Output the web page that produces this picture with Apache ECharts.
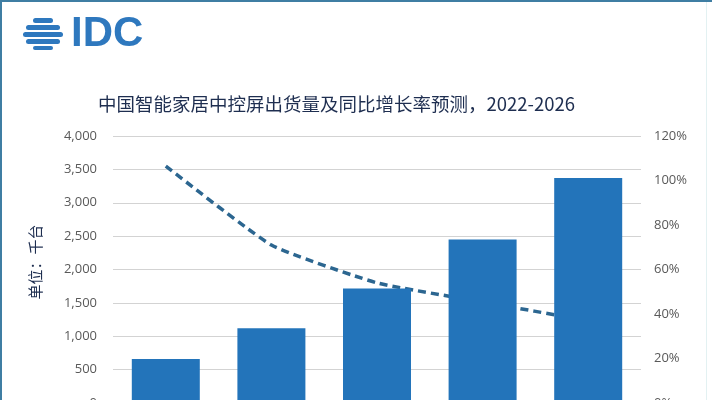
<!DOCTYPE html>
<html>
<head>
<meta charset="utf-8">
<script src="https://cdn.jsdelivr.net/npm/echarts@6/dist/echarts.min.js"></script>
<style>
html,body{margin:0;padding:0;background:#fff;}
#c{width:712px;height:400px;}
</style>
</head>
<body>
<div id="c"></div>
<script>
const categories = ['2022', '2023', '2024', '2025', '2026'];
const shipments = [660, 1120, 1715, 2450, 3370];
const growth = [1.065, 0.71, 0.54, 0.454, 0.37];
const leftTicks = { min: 0, max: 4000, interval: 500 };
const rightTicks = { min: 0, max: 1.2, interval: 0.2 };
const titleText = '中国智能家居中控屏出货量及同比增长率预测，2022-2026';
const unitText = '单位：千台';

const chart = echarts.init(document.getElementById('c'), null, { renderer: 'canvas' });

const blue = '#2E78BE';
const stripes = [
  { y: 18, h: 5, hw: 10 },
  { y: 25, h: 5, hw: 17 },
  { y: 32, h: 5, hw: 20 },
  { y: 39, h: 5, hw: 17 },
  { y: 46, h: 4, hw: 10 }
];
const logo = stripes.map(s => ({
  type: 'rect',
  shape: { x: 43 - s.hw, y: s.y, width: s.hw * 2, height: s.h, r: s.h / 2 },
  style: { fill: blue }
}));

chart.setOption({
  backgroundColor: '#ffffff',
  animation: false,
  title: {
    text: titleText,
    left: 93,
    top: 90,
    textStyle: { fontFamily: 'Noto Sans CJK SC', fontSize: 18.5, fontWeight: 'normal', color: '#1E2E50' }
  },
  grid: { left: 113, right: 71, top: 136, height: 267, containLabel: false, outerBoundsMode: 'none' },
  xAxis: {
    type: 'category',
    data: categories,
    axisLine: { show: true, lineStyle: { color: '#D0D0D0' } },
    axisTick: { show: false },
    axisLabel: { color: '#595959', fontSize: 13 }
  },
  yAxis: [
    {
      type: 'value',
      min: leftTicks.min, max: leftTicks.max, interval: leftTicks.interval,
      axisLine: { show: false },
      axisTick: { show: false },
      splitLine: { show: true, lineStyle: { color: '#D3D3D3', width: 1 } },
      axisLabel: {
        margin: 16,
        color: '#595959',
        fontSize: 13,
        fontFamily: 'Open Sans',
        formatter: v => v.toLocaleString('en-US')
      }
    },
    {
      type: 'value',
      min: rightTicks.min, max: rightTicks.max, interval: rightTicks.interval,
      axisLine: { show: false },
      axisTick: { show: false },
      splitLine: { show: false },
      axisLabel: {
        margin: 13,
        color: '#595959',
        fontSize: 13,
        fontFamily: 'Open Sans',
        formatter: v => Math.round(v * 100) + '%'
      }
    }
  ],
  series: [
    {
      type: 'line',
      yAxisIndex: 1,
      data: growth,
      z: 1,
      smooth: 0.15,
      showSymbol: false,
      lineStyle: { color: '#2C6690', width: 3.5, type: [8, 5] }
    },
    {
      type: 'bar',
      yAxisIndex: 0,
      data: shipments,
      z: 2,
      barWidth: 68,
      itemStyle: { color: '#2374BA' }
    }
  ],
  graphic: [
    { type: 'rect', shape: { x: 0, y: 0, width: 2, height: 400 }, style: { fill: '#3F7EA3' } },
    { type: 'rect', shape: { x: 0, y: 0, width: 712, height: 2 }, style: { fill: '#3F7EA3' } },
    { type: 'rect', shape: { x: 706, y: 2, width: 1, height: 398 }, style: { fill: '#E3F1F2' } },
    ...logo,
    {
      type: 'text',
      style: { x: 71, y: 34, text: 'IDC', font: 'bold 42px "Liberation Sans", Arial, sans-serif', fill: blue, textVerticalAlign: 'middle', textAlign: 'left' }
    },
    {
      type: 'text',
      x: 35, y: 262,
      rotation: Math.PI / 2,
      style: { x: 0, y: 0, text: unitText, font: '15px "Noto Sans CJK SC"', fill: '#1E2E50', textAlign: 'center', textVerticalAlign: 'middle' }
    }
  ]
});
</script>
</body>
</html>
